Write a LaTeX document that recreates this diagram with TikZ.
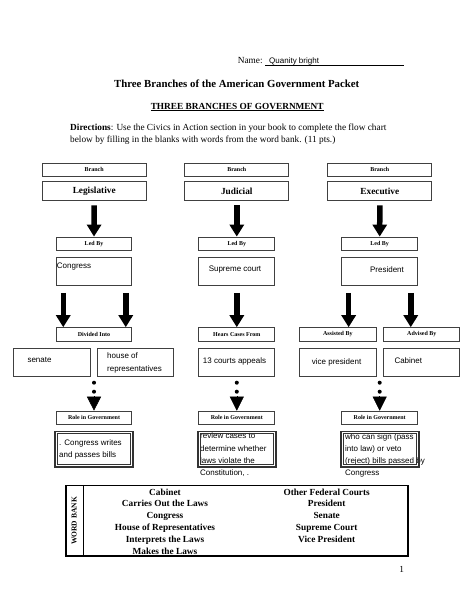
\documentclass[tikz,border=0pt]{standalone}
\usepackage{fontspec}
\setmainfont{Liberation Serif}
\setsansfont{Liberation Sans}
\usetikzlibrary{arrows.meta,calc}
\begin{document}
\begin{tikzpicture}[x=1pt,y=-1pt,
  box/.style={draw=black!75,line width=0.9pt,inner sep=0pt},
  lbl/.style={box,font=\fontsize{6}{7}\selectfont\bfseries,minimum height=13.3pt},
  bname/.style={box,font=\fontsize{9.3}{11}\selectfont\bfseries,minimum width=104pt,minimum height=19.7pt},
  cbox/.style={box,minimum height=27.6pt},
  ctext/.style={font=\sffamily\fontsize{8}{9.6}\selectfont,inner sep=0pt},
  rolebox/.style={draw=black!80,line width=1.5pt,minimum width=78pt,minimum height=35.5pt,inner sep=0pt},
  innerrole/.style={draw=black!80,line width=0.9pt},
  bigarrow/.style={line width=5.5pt,-{Triangle[width=14pt,length=12pt]}},
  headarrow/.style={line width=0.5pt,-{Triangle[width=14pt,length=14pt]}},
  dot/.style={circle,fill,inner sep=0pt,minimum size=4pt},
  serif/.style={font=\fontsize{9.3}{11.7}\selectfont,inner sep=0pt},
  bank/.style={font=\fontsize{9.3}{11}\selectfont\bfseries,inner sep=0pt,anchor=base},
]
\useasboundingbox[fill=white] (0,0) rectangle (474,613);

% header
\node[serif,anchor=west] (name) at (237.7,61) {Name:};
\node[ctext,anchor=west] (qb) at (269,61) {Quanity bright};
\coordinate (ul1) at (265,65.5);
\coordinate (ul2) at (404,65.5);
\draw[line width=0.6pt] (ul1) -- (ul2);
\node[font=\fontsize{10.8}{13}\selectfont\bfseries,inner sep=0pt] (title) at (236.7,83.3) {Three Branches of the American Government Packet};
\node[font=\fontsize{9.3}{11}\selectfont\bfseries,inner sep=0pt,anchor=base] (sub) at (237.2,109) {\underline{THREE BRANCHES OF GOVERNMENT}};
\node[serif,anchor=base west] (dir1) at (70,130.6) {\textbf{Directions}: Use the Civics in Action section in your book to complete the flow chart};
\node[serif,anchor=base west] (dir2) at (70,142.3) {below by filling in the blanks with words from the word bank. (11 pts.)};

% branch row
\node[lbl,minimum width=104pt] (brL) at (94.2,169.7) {Branch};
\node[lbl,minimum width=104pt] (brM) at (236.8,169.7) {Branch};
\node[lbl,minimum width=104pt] (brR) at (379.8,169.7) {Branch};
\node[bname] (legis) at (94.2,191) {Legislative};
\node[bname] (judic) at (236.8,191) {Judicial};
\node[bname] (exec) at (379.8,191) {Executive};

% led by
\node[lbl,minimum width=75.8pt] (ledL) at (94,243.7) {Led By};
\node[lbl,minimum width=75.8pt] (ledM) at (236.8,243.7) {Led By};
\node[lbl,minimum width=75.8pt] (ledR) at (379.7,243.7) {Led By};
\draw[bigarrow] ($(legis.south)+(0,4)$) -- (ledL.north);
\draw[bigarrow] ($(judic.south)+(0,4)$) -- (ledM.north);
\draw[bigarrow] ($(exec.south)+(0,4)$) -- (ledR.north);

\node[cbox,minimum width=75.8pt] (congress) at (94,271.5) {};
\node[cbox,minimum width=75.8pt] (supreme) at (236.8,271.5) {};
\node[cbox,minimum width=75.8pt] (pres) at (379.7,271.5) {};
\node[ctext,anchor=base west] (tcongress) at (56.7,268.5) {Congress};
\node[ctext,anchor=base] (tsupreme) at (235,271.8) {Supreme court};
\node[ctext,anchor=base] (tpres) at (387,272.5) {President};

% second labels
\node[lbl,minimum width=75.8pt] (divL) at (94,334.3) {Divided Into};
\node[lbl,minimum width=75.8pt] (hearM) at (236.8,334.3) {Hears Cases From};
\node[lbl,minimum width=76.8pt] (assR) at (337.8,334.3) {Assisted By};
\node[lbl,minimum width=76.2pt] (advR) at (421.8,334.3) {Advised By};

\coordinate (aL1) at ($(congress.south west)+(7.6,7)$);
\coordinate (aL2) at ($(congress.south east)+(-6.6,7)$);
\coordinate (aM) at ($(supreme.south)+(0,7)$);
\coordinate (aR1) at ($(pres.south west)+(7.3,7)$);
\coordinate (aR2) at ($(pres.south east)+(-7.3,7)$);
\draw[bigarrow] (aL1) -- (aL1 |- divL.north);
\draw[bigarrow] (aL2) -- (aL2 |- divL.north);
\draw[bigarrow] (aM) -- (hearM.north);
\draw[bigarrow] (aR1) -- (aR1 |- assR.north);
\draw[bigarrow] (aR2) -- (aR2 |- advR.north);

% content row
\node[cbox,minimum width=76.6pt] (senate) at (52,362.3) {};
\node[cbox,minimum width=75.8pt] (house) at (135.7,362.3) {};
\node[cbox,minimum width=75.8pt] (courts) at (236.8,362.3) {};
\node[cbox,minimum width=76.8pt] (vice) at (337.8,362.3) {};
\node[cbox,minimum width=76.2pt] (cab) at (421.8,362.3) {};
\node[ctext,anchor=base west] (tsenate) at (27.3,362.8) {senate};
\node[ctext,anchor=base west] (thouse1) at (107,358.5) {house of};
\node[ctext,anchor=base west] (thouse2) at (107,371.8) {representatives};
\node[ctext,anchor=base west] (tcourts) at (202.7,363.8) {13 courts appeals};
\node[ctext,anchor=base west] (tvice) at (311.7,364.5) {vice president};
\node[ctext,anchor=base west] (tcab) at (394.3,363.5) {Cabinet};

% role labels
\node[lbl,minimum width=75.8pt] (roleL) at (94,417.8) {Role in Government};
\node[lbl,minimum width=75.8pt] (roleM) at (236.8,417.8) {Role in Government};
\node[lbl,minimum width=75.8pt] (roleR) at (379.7,417.8) {Role in Government};
\foreach \r in {roleL,roleM,roleR}{
  \node[dot] (\r d1) at ($(\r.north)+(0,-28)$) {};
  \node[dot] (\r d2) at ($(\r.north)+(0,-19)$) {};
  \draw[headarrow] ($(\r.north)+(0,-14.3)$) -- (\r.north);
}

% role texts
\node[ctext,anchor=base west] (rl1) at (59,445.5) {. Congress writes};
\node[ctext,anchor=base west] (rl2) at (59,457.1) {and passes bills};
\node[ctext,anchor=base west] (rm1) at (200,438.2) {review cases to};
\node[ctext,anchor=base west] (rm2) at (200,451) {determine whether};
\node[ctext,anchor=base west] (rm3) at (200,463.5) {laws violate the};
\node[ctext,anchor=base west] (rm4) at (200,475) {Constitution, .};
\node[ctext,anchor=base west] (rr1) at (345,439.5) {who can sign (pass};
\node[ctext,anchor=base west] (rr2) at (345,451.1) {into law) or veto};
\node[ctext,anchor=base west] (rr3) at (345,463.5) {(reject) bills passed by};
\node[ctext,anchor=base west] (rr4) at (345,475.8) {Congress};

% role boxes
\node[rolebox] (rbL) at (94,449.1) {};
\node[rolebox] (rbM) at (236.8,449.1) {};
\node[rolebox] (rbR) at (379.8,449.1) {};
\foreach \b in {rbL,rbM,rbR}{
  \draw[innerrole] ($(\b.north west)+(3,3)$) rectangle ($(\b.south east)+(-3,-3)$);
}

% word bank
\node[draw,line width=1.5pt,minimum width=342pt,minimum height=70.3pt,inner sep=0pt] (wb) at (237,520.85) {};
\coordinate (dv) at (83.3,0);
\draw[line width=1.2pt] (dv |- wb.north) -- (dv |- wb.south);
\node[font=\fontsize{7.5}{9}\selectfont\bfseries,inner sep=0pt,rotate=90] (wbl) at (74.3,521) {WORD BANK};
\node[bank] (w1) at (165,495) {Cabinet};
\node[bank] (w2) at (165,506.8) {Carries Out the Laws};
\node[bank] (w3) at (165,518.6) {Congress};
\node[bank] (w4) at (165,530.4) {House of Representatives};
\node[bank] (w5) at (165,542.2) {Interprets the Laws};
\node[bank] (w6) at (165,554) {Makes the Laws};
\node[bank] (w7) at (326.7,495) {Other Federal Courts};
\node[bank] (w8) at (326.7,506.8) {President};
\node[bank] (w9) at (326.7,518.6) {Senate};
\node[bank] (w10) at (326.7,530.4) {Supreme Court};
\node[bank] (w11) at (326.7,542.2) {Vice President};

\node[serif] (pg) at (401.7,569.3) {1};
\end{tikzpicture}
\end{document}
